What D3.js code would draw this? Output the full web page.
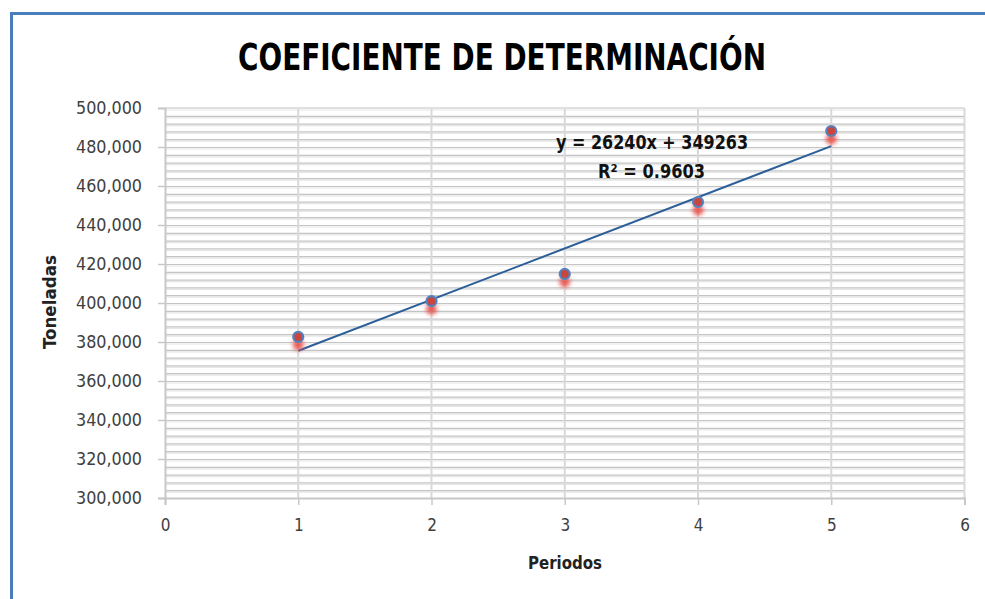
<!DOCTYPE html>
<html>
<head>
<meta charset="utf-8">
<script src="https://cdn.jsdelivr.net/npm/d3@7"></script>
<style>
  html, body { margin: 0; padding: 0; background: #fff; }
  svg { display: block; }
</style>
</head>
<body>
<div id="chart"></div>
<script>
const periods = [1, 2, 3, 4, 5];
const toneladas = [382600, 401000, 414900, 451800, 488200];
const trend = {slope: 26240, intercept: 349263};
const xTicks = [0, 1, 2, 3, 4, 5, 6];
const yTicks = [300000, 320000, 340000, 360000, 380000, 400000, 420000, 440000, 460000, 480000, 500000];
const minorStep = 4000;

const width = 985, height = 599;
const font = "\"Liberation Sans Narrow\", \"DejaVu Sans Condensed\", sans-serif";

const svg = d3.select("#chart").append("svg")
  .attr("width", width)
  .attr("height", height);

// blur for the marker shadow
const defs = svg.append("defs");
defs.append("filter").attr("id", "blur")
  .attr("x", "-100%").attr("y", "-100%").attr("width", "300%").attr("height", "300%")
  .append("feGaussianBlur").attr("stdDeviation", 2);

// blue frame (top + left)
svg.append("path")
  .attr("d", `M11.5,${height} L11.5,13.5 L${width},13.5`)
  .attr("fill", "none")
  .attr("stroke", "#4a7ebb")
  .attr("stroke-width", 3);

const x = d3.scaleLinear([0, 6], [165, 964.5]);
const y = d3.scaleLinear([300000, 500000], [498, 108]);

// minor horizontal gridlines, drawn as double lines
const minor = d3.range(300000 + minorStep, 500000 + 1, minorStep);
const grid = svg.append("g");
grid.selectAll("line.hl")
  .data(minor)
  .join("line")
  .attr("class", "hl")
  .attr("x1", x(0)).attr("x2", x(6))
  .attr("y1", d => y(d) + 2).attr("y2", d => y(d) + 2)
  .attr("stroke", "#e6e6e6").attr("stroke-width", 1.2);
grid.selectAll("line.hd")
  .data(minor)
  .join("line")
  .attr("class", "hd")
  .attr("x1", x(0)).attr("x2", x(6))
  .attr("y1", d => y(d) + 0.5).attr("y2", d => y(d) + 0.5)
  .attr("stroke", "#c4c4c4").attr("stroke-width", 1.2);

// vertical gridlines
grid.selectAll("line.v")
  .data(xTicks.slice(1))
  .join("line")
  .attr("class", "v")
  .attr("x1", d => x(d)).attr("x2", d => x(d))
  .attr("y1", y(500000)).attr("y2", y(300000))
  .attr("stroke", "#d9d9d9").attr("stroke-width", 2);

// top border of plot area
grid.append("line")
  .attr("x1", x(0)).attr("x2", x(6))
  .attr("y1", y(500000)).attr("y2", y(500000))
  .attr("stroke", "#e0e0e0").attr("stroke-width", 2);

// axes
const axisY = svg.append("g")
  .attr("transform", `translate(${x(0)},0)`)
  .call(d3.axisLeft(y).tickValues(yTicks).tickFormat(d3.format(",")).tickSize(7).tickPadding(16));
const axisX = svg.append("g")
  .attr("transform", `translate(0,${y(300000)})`)
  .call(d3.axisBottom(x).tickValues(xTicks).tickFormat(d3.format("d")).tickSize(7).tickPadding(14));

[axisY, axisX].forEach(a => {
  a.select(".domain").attr("stroke", "#c8c8c8").attr("stroke-width", 2);
  a.selectAll(".tick line").attr("stroke", "#c8c8c8").attr("stroke-width", 1.5);
  a.selectAll(".tick text").attr("fill", "#404040").attr("font-size", 17)
    .attr("font-family", font);
});
axisY.selectAll(".tick text").attr("dy", "0.35em")
  .attr("textLength", 66).attr("lengthAdjust", "spacingAndGlyphs");

// trend line
const line = d3.line()
  .x(d => x(d))
  .y(d => y(trend.slope * d + trend.intercept));
svg.append("path")
  .datum([periods[0], periods[periods.length - 1]])
  .attr("d", line)
  .attr("fill", "none")
  .attr("stroke", "#2c5f9a")
  .attr("stroke-width", 2);

// points: blurred red shadow + red marker with blue ring
const pts = periods.map((p, i) => [p, toneladas[i]]);
svg.append("g").selectAll("circle")
  .data(pts)
  .join("circle")
  .attr("cx", d => x(d[0]))
  .attr("cy", d => y(d[1]) + 8)
  .attr("r", 5.5)
  .attr("fill", "#e8504a")
  .attr("opacity", 0.9)
  .attr("filter", "url(#blur)");
svg.append("g").selectAll("circle")
  .data(pts)
  .join("circle")
  .attr("cx", d => x(d[0]))
  .attr("cy", d => y(d[1]))
  .attr("r", 5)
  .attr("fill", "#c9463f")
  .attr("stroke", "#5283c0")
  .attr("stroke-width", 2.2);

// equation text
const eq = svg.append("g")
  .attr("font-family", font)
  .attr("font-weight", "bold")
  .attr("font-size", 19)
  .attr("fill", "#111");
eq.append("text").attr("x", 556).attr("y", 149)
  .attr("textLength", 192).attr("lengthAdjust", "spacingAndGlyphs")
  .text(`y = ${trend.slope}x + ${trend.intercept}`);
eq.append("text").attr("x", 598).attr("y", 178)
  .attr("textLength", 107).attr("lengthAdjust", "spacingAndGlyphs")
  .text("R² = 0.9603");

// title
svg.append("text")
  .attr("x", 238).attr("y", 70)
  .attr("textLength", 528).attr("lengthAdjust", "spacingAndGlyphs")
  .attr("font-family", font)
  .attr("font-weight", "bold")
  .attr("font-size", 37)
  .attr("fill", "#000")
  .text("COEFICIENTE DE DETERMINACIÓN");

// axis titles
svg.append("text")
  .attr("transform", "translate(56,302) rotate(-90)")
  .attr("text-anchor", "middle")
  .attr("textLength", 94).attr("lengthAdjust", "spacingAndGlyphs")
  .attr("font-family", font)
  .attr("font-weight", "bold")
  .attr("font-size", 17)
  .attr("fill", "#222")
  .text("Toneladas");
svg.append("text")
  .attr("x", 565).attr("y", 569)
  .attr("text-anchor", "middle")
  .attr("textLength", 74).attr("lengthAdjust", "spacingAndGlyphs")
  .attr("font-family", font)
  .attr("font-weight", "bold")
  .attr("font-size", 17)
  .attr("fill", "#222")
  .text("Periodos");
</script>
</body>
</html>
